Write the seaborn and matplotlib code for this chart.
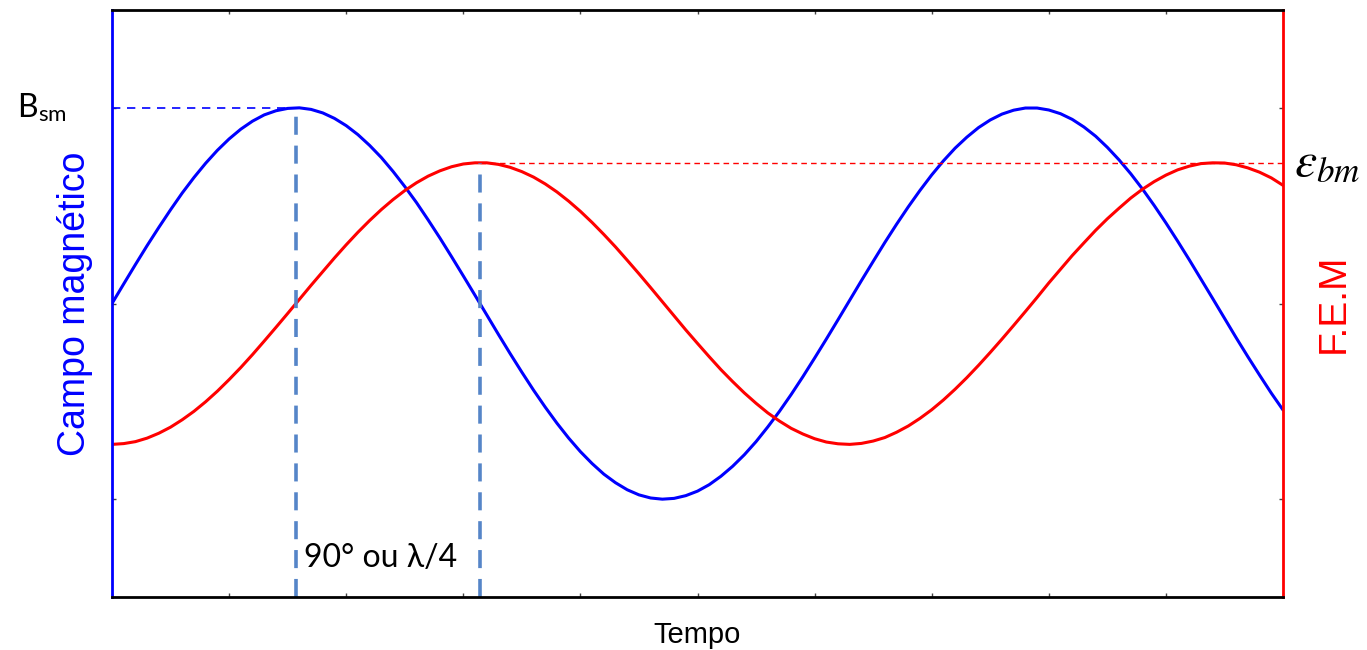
import numpy as np
import pandas as pd
import matplotlib
matplotlib.use("Agg")
import matplotlib.pyplot as plt
import seaborn as sns

# ---- data ----
tempo = [0.0, 0.1, 0.2, 0.3, 0.4, 0.5, 0.6, 0.7, 0.8, 0.9,
         1.0, 1.1, 1.2, 1.3, 1.4, 1.5, 1.6, 1.7, 1.8, 1.9,
         2.0, 2.1, 2.2, 2.3, 2.4, 2.5, 2.6, 2.7, 2.8, 2.9,
         3.0, 3.1, 3.2, 3.3, 3.4, 3.5, 3.6, 3.7, 3.8, 3.9,
         4.0, 4.1, 4.2, 4.3, 4.4, 4.5, 4.6, 4.7, 4.8, 4.9,
         5.0, 5.1, 5.2, 5.3, 5.4, 5.5, 5.6, 5.7, 5.8, 5.9,
         6.0, 6.1, 6.2, 6.3, 6.4, 6.5, 6.6, 6.7, 6.8, 6.9,
         7.0, 7.1, 7.2, 7.3, 7.4, 7.5, 7.6, 7.7, 7.8, 7.9,
         8.0, 8.1, 8.2, 8.3, 8.4, 8.5, 8.6, 8.7, 8.8, 8.9,
         9.0, 9.1, 9.2, 9.3, 9.4, 9.5, 9.6, 9.7, 9.8, 9.9, 10.0]
campo = [0.000, 0.100, 0.199, 0.296, 0.389, 0.479, 0.565, 0.644, 0.717, 0.783,
         0.841, 0.891, 0.932, 0.964, 0.985, 0.997, 1.000, 0.992, 0.974, 0.946,
         0.909, 0.863, 0.808, 0.746, 0.675, 0.598, 0.516, 0.427, 0.335, 0.239,
         0.141, 0.042, -0.058, -0.158, -0.256, -0.351, -0.443, -0.530, -0.612, -0.688,
         -0.757, -0.818, -0.872, -0.916, -0.952, -0.978, -0.994, -1.000, -0.996, -0.982,
         -0.959, -0.926, -0.883, -0.832, -0.773, -0.706, -0.631, -0.551, -0.465, -0.374,
         -0.279, -0.182, -0.083, 0.017, 0.117, 0.215, 0.312, 0.405, 0.494, 0.578,
         0.657, 0.729, 0.794, 0.850, 0.899, 0.938, 0.968, 0.988, 0.999, 0.999,
         0.989, 0.970, 0.941, 0.902, 0.855, 0.798, 0.734, 0.663, 0.585, 0.501,
         0.412, 0.319, 0.223, 0.124, 0.025, -0.075, -0.175, -0.272, -0.366, -0.458, -0.544]
fem = [-0.720, -0.716, -0.706, -0.688, -0.663, -0.632, -0.594, -0.551, -0.502, -0.448,
       -0.389, -0.327, -0.261, -0.192, -0.122, -0.051, 0.021, 0.093, 0.163, 0.233,
       0.300, 0.364, 0.424, 0.480, 0.531, 0.577, 0.617, 0.651, 0.678, 0.699,
       0.713, 0.719, 0.719, 0.711, 0.696, 0.674, 0.646, 0.611, 0.570, 0.523,
       0.471, 0.414, 0.353, 0.289, 0.221, 0.152, 0.081, 0.009, -0.063, -0.135,
       -0.204, -0.272, -0.338, -0.399, -0.457, -0.510, -0.559, -0.601, -0.638, -0.667,
       -0.691, -0.708, -0.717, -0.720, -0.715, -0.703, -0.685, -0.658, -0.626, -0.587,
       -0.543, -0.493, -0.438, -0.379, -0.316, -0.250, -0.182, -0.112, -0.041, 0.031,
       0.105, 0.175, 0.245, 0.310, 0.374, 0.433, 0.487, 0.539, 0.584, 0.623,
       0.656, 0.683, 0.702, 0.715, 0.719, 0.718, 0.709, 0.693, 0.671, 0.642, 0.604]

b_peak_t, b_peak = 1.571, 1.0     # B_sm
e_peak_t, e_peak = 3.142, 0.72    # epsilon_bm
x_ticks = list(range(0, 11))
y_ticks = [-1, 0, 1]

df = pd.DataFrame({"t": tempo, "campo": campo, "fem": fem})

sns.set_style("white")
plt.rcParams["font.family"] = ["Liberation Sans", "DejaVu Sans"]
plt.rcParams["mathtext.fontset"] = "stix"
plt.rcParams["text.color"] = "black"
plt.rcParams["axes.labelcolor"] = "black"

fig = plt.figure(figsize=(13.67, 6.5), dpi=100)
ax = fig.add_axes([112 / 1367, 53 / 650, 1171 / 1367, 587 / 650])

sns.lineplot(data=df, x="t", y="campo", ax=ax, color="#0000ff", lw=2.2)
sns.lineplot(data=df, x="t", y="fem", ax=ax, color="#ff0000", lw=2.2)

ax.set_xlim(0, 10)
ax.set_ylim(-1.5, 1.5)

# reference lines
ax.plot([0, b_peak_t], [b_peak, b_peak], color="#0000ff", lw=1.2, ls=(0, (5, 4)))
ax.plot([e_peak_t, 10], [e_peak, e_peak], color="#ff0000", lw=1.0, ls=(0, (4, 3)))
dash_col = "#5585c8"
ax.plot([b_peak_t, b_peak_t], [-1.5, b_peak], color=dash_col, lw=2.6, ls=(0, (5, 3)))
ax.plot([e_peak_t, e_peak_t], [-1.5, e_peak], color=dash_col, lw=2.6, ls=(0, (5, 3)))

# spines
for s in ["top", "bottom"]:
    ax.spines[s].set_color("black")
    ax.spines[s].set_linewidth(2)
ax.spines["left"].set_color("#0000ff")
ax.spines["left"].set_linewidth(2)
ax.spines["right"].set_color("#ff0000")
ax.spines["right"].set_linewidth(2)
for s in ax.spines.values():
    s.set_visible(True)

ax.set_xticks(x_ticks)
ax.set_yticks(y_ticks)
ax.tick_params(direction="in", length=3, width=1, color="#444444",
               top=True, right=True, bottom=True, left=True,
               labelbottom=False, labelleft=False)

ax.set_xlabel("Tempo", fontsize=21, labelpad=17, color="black")
ax.set_ylabel("Campo magnético", fontsize=27, color="#0000ff", labelpad=14)
ax.text(1.028, 0.5, "F.E.M", transform=ax.transAxes, rotation=90,
        fontsize=28, color="#ff0000", ha="left", va="center")

ax.text(1.64, -1.3, "90° ou λ/4", fontsize=23, family=["Lato", "DejaVu Sans"],
        ha="left", va="center", color="black")
ax.text(-0.081, b_peak, r"B$_{\mathregular{sm}}$", transform=ax.get_yaxis_transform(),
        fontsize=23, family=["Lato", "DejaVu Sans"], ha="left", va="center", color="black")
ax.text(1.009, e_peak, r"$\varepsilon_{bm}$", transform=ax.get_yaxis_transform(),
        fontsize=36, ha="left", va="center", color="black")

fig.savefig("out.png", dpi=100)
